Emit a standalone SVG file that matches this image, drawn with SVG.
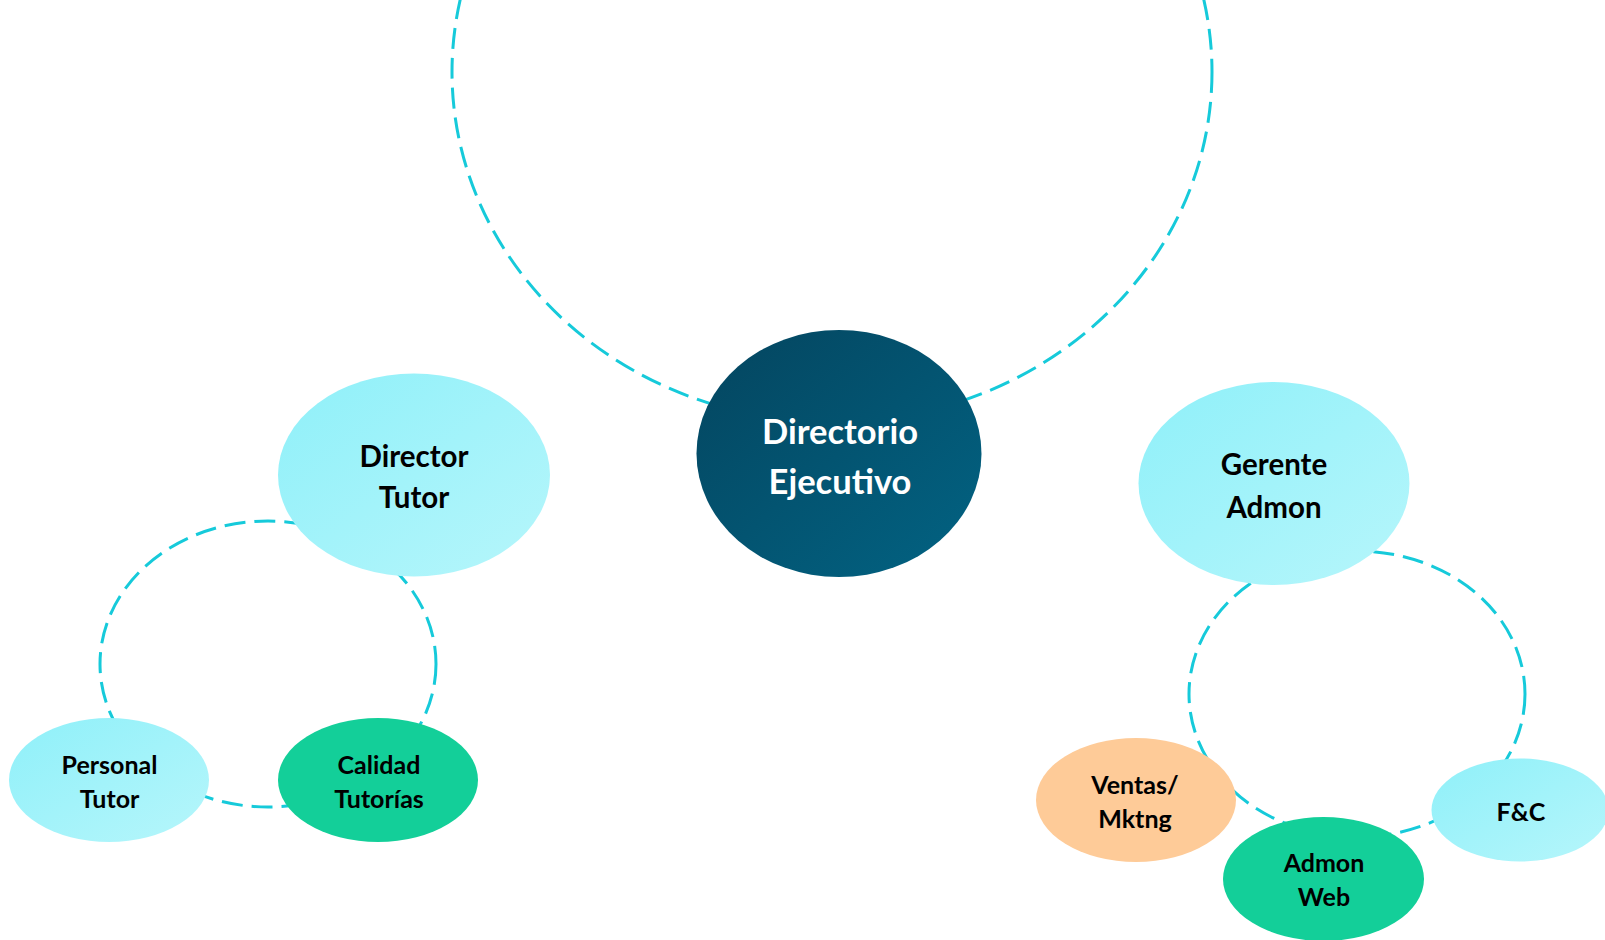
<svg xmlns="http://www.w3.org/2000/svg" width="1605" height="940" viewBox="0 0 1605 940">
  <defs>
    <linearGradient id="gDark" x1="0" y1="0" x2="1" y2="1">
      <stop offset="0" stop-color="#04455f"/>
      <stop offset="1" stop-color="#026383"/>
    </linearGradient>
    <linearGradient id="gLight" x1="0" y1="0" x2="1" y2="1">
      <stop offset="0" stop-color="#8ff0f9"/>
      <stop offset="1" stop-color="#b6f6fb"/>
    </linearGradient>
    <style>
      .ring { fill: none; stroke: #16cada; stroke-width: 3; stroke-dasharray: 21 9; }
      .dark { fill: url(#gDark); }
      .light { fill: url(#gLight); }
      .green { fill: #13cf99; }
      .peach { fill: #fecb98; }
      text { font-family: Lato, "Open Sans", "Liberation Sans", sans-serif; font-weight: 700; text-anchor: middle; fill: #000; }
      .t-main { font-size: 34.5px; fill: #ffffff; }
      .t-mid { font-size: 29.5px; }
      .t-small { font-size: 25px; }
    </style>
  </defs>

  <!-- dashed cycle rings behind the nodes -->
  <g id="connectors">
    <ellipse class="ring" cx="832" cy="72" rx="380" ry="350"/>
    <ellipse class="ring" cx="268" cy="664" rx="168" ry="143"/>
    <ellipse class="ring" cx="1357" cy="694" rx="168" ry="143"/>
  </g>

  <g id="directorio-ejecutivo">
    <ellipse class="dark" cx="839" cy="453.5" rx="142.5" ry="123.5"/>
    <text class="t-main" x="840" y="443.5">Directorio</text>
    <text class="t-main" x="840" y="493.5">Ejecutivo</text>
  </g>

  <g id="director-tutor">
    <ellipse class="light" cx="414" cy="475" rx="136" ry="101.5"/>
    <text class="t-mid" x="414" y="467">Director</text>
    <text class="t-mid" x="414" y="508">Tutor</text>
  </g>

  <g id="gerente-admon">
    <ellipse class="light" cx="1274" cy="483.5" rx="135.5" ry="101.5"/>
    <text class="t-mid" x="1274" y="475">Gerente</text>
    <text class="t-mid" x="1274" y="518">Admon</text>
  </g>

  <g id="personal-tutor">
    <ellipse class="light" cx="109" cy="780" rx="100" ry="62"/>
    <text class="t-small" x="109.5" y="774">Personal</text>
    <text class="t-small" x="109.5" y="808">Tutor</text>
  </g>

  <g id="calidad-tutorias">
    <ellipse class="green" cx="378" cy="780" rx="100" ry="62"/>
    <text class="t-small" x="379" y="774">Calidad</text>
    <text class="t-small" x="379" y="808">Tutorías</text>
  </g>

  <g id="ventas-mktng">
    <ellipse class="peach" cx="1136" cy="800" rx="100" ry="62"/>
    <text class="t-small" x="1135" y="794">Ventas/</text>
    <text class="t-small" x="1135" y="828">Mktng</text>
  </g>

  <g id="admon-web">
    <ellipse class="green" cx="1323.5" cy="879" rx="100.5" ry="62"/>
    <text class="t-small" x="1324" y="872">Admon</text>
    <text class="t-small" x="1324" y="906">Web</text>
  </g>

  <g id="f-c">
    <ellipse class="light" cx="1520" cy="810" rx="88.5" ry="51.5"/>
    <text class="t-small" x="1521" y="821">F&amp;C</text>
  </g>
</svg>
